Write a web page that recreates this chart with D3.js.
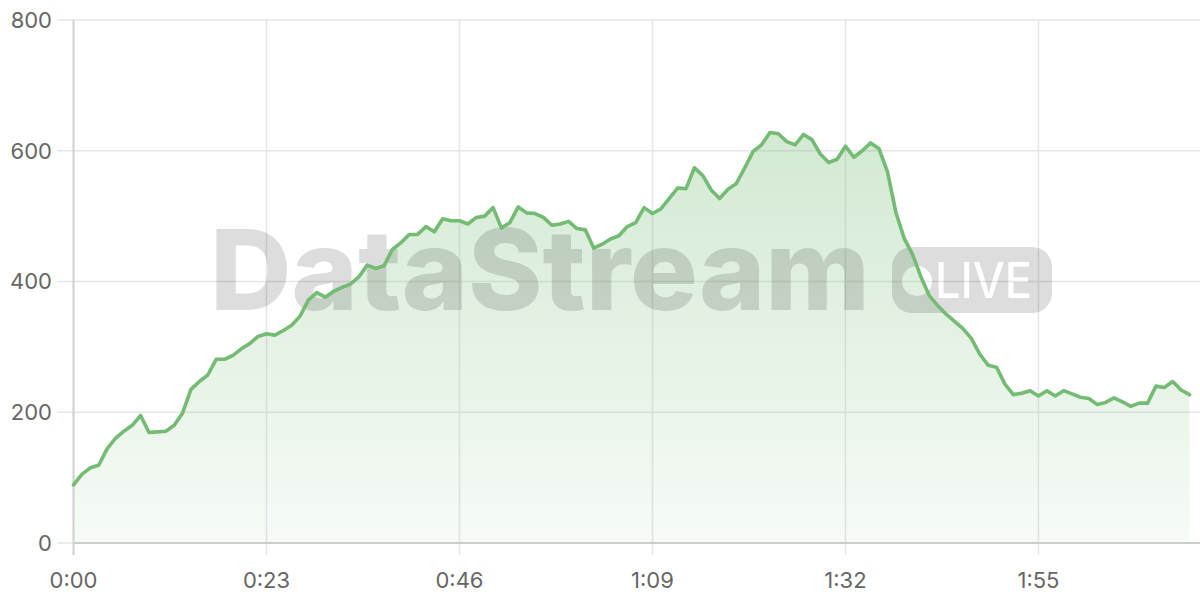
<!DOCTYPE html>
<html>
<head>
<meta charset="utf-8">
<script src="https://cdn.jsdelivr.net/npm/d3@7/dist/d3.min.js"></script>
<style>
  html, body { margin: 0; padding: 0; background: #fff; }
  svg { display: block; }
</style>
</head>
<body>
<svg id="chart" width="1200" height="600"></svg>
<script>
// ---- data (one sample per second) ----
const seconds = d3.range(0, 134);
const viewers = [
  89, 105, 115, 119, 144, 160, 171, 180, 195, 169,
  170, 171, 180, 199, 235, 247, 257, 281, 281, 287,
  297, 305, 316, 320, 318, 325, 333, 347, 372, 383,
  376, 385, 391, 396, 407, 425, 420, 424, 449, 459,
  472, 472, 484, 476, 496, 493, 493, 488, 498, 500,
  513, 482, 490, 514, 505, 504, 498, 486, 488, 492,
  481, 479, 451, 457, 465, 470, 484, 490, 513, 504,
  511, 527, 543, 542, 574, 562, 540, 527, 541, 550,
  574, 599, 609, 628, 626, 614, 609, 625, 617, 595,
  582, 587, 607, 590, 600, 612, 603, 568, 506, 466,
  441, 407, 378, 363, 350, 339, 328, 313, 289, 272,
  269, 243, 227, 229, 233, 225, 233, 225, 233, 228,
  223, 221, 212, 215, 222, 216, 209, 214, 214, 240,
  238, 247, 234, 227
];
const xTicks = [0, 23, 46, 69, 92, 115];
const yTicks = [0, 200, 400, 600, 800];
const watermarkText = "DataStream";
const badgeText = "LIVE";

(function () {
  // ---- layout ----
  const svg = d3.select("#chart");
  const pLeft = 73.5, pRight = 1200, pTop = 20, pBottom = 543;
  const x = d3.scaleLinear().domain([0, 134.25]).range([pLeft, pRight]);
  const y = d3.scaleLinear().domain([0, 800]).range([pBottom, pTop]);
  const data = seconds.map((s, i) => ({ s, v: viewers[i] }));
  const fmt = s => Math.floor(s / 60) + ":" + String(s % 60).padStart(2, "0");
  const green = "#74bb74";
  const font = "Inter, 'Noto Sans', sans-serif";

  const defs = svg.append("defs");
  const grad = defs.append("linearGradient")
    .attr("id", "areaGrad").attr("gradientUnits", "userSpaceOnUse")
    .attr("x1", 0).attr("x2", 0).attr("y1", y(630)).attr("y2", y(0));
  grad.append("stop").attr("offset", 0).attr("stop-color", green).attr("stop-opacity", 0.32);
  grad.append("stop").attr("offset", 1).attr("stop-color", green).attr("stop-opacity", 0.06);

  // ---- grid ----
  const grid = svg.append("g");
  grid.selectAll("line.h").data(yTicks.filter(t => t > 0)).join("line")
    .attr("x1", pLeft - 16).attr("x2", pRight)
    .attr("y1", d => y(d)).attr("y2", d => y(d))
    .attr("stroke", "#e6e6e6").attr("stroke-width", 1.5);
  grid.selectAll("line.v").data(xTicks.filter(t => t > 0)).join("line")
    .attr("x1", d => x(d)).attr("x2", d => x(d))
    .attr("y1", pTop).attr("y2", pBottom + 12)
    .attr("stroke", "#e6e6e6").attr("stroke-width", 1.5);

  // ---- area ----
  const area = d3.area().x(d => x(d.s)).y0(y(0)).y1(d => y(d.v));
  svg.append("path").datum(data).attr("d", area).attr("fill", "url(#areaGrad)");

  // ---- watermark ----
  const mask = defs.append("mask").attr("id", "badgeMask");
  mask.append("rect").attr("x", 0).attr("y", 0).attr("width", 1200).attr("height", 600).attr("fill", "#fff");
  mask.append("circle").attr("cx", 917).attr("cy", 281).attr("r", 15).attr("fill", "#000");
  mask.append("text").attr("x", 935).attr("y", 298)
    .attr("font-family", font).attr("font-size", 49).attr("font-weight", 500)
    .attr("textLength", 97).attr("lengthAdjust", "spacingAndGlyphs")
    .attr("fill", "#000").text(badgeText);

  const wm = svg.append("g").attr("fill", "#000").attr("fill-opacity", 0.135);
  wm.append("text").attr("x", 210).attr("y", 310)
    .attr("font-family", font).attr("font-size", 112).attr("font-weight", 800)
    .attr("textLength", 660).attr("lengthAdjust", "spacingAndGlyphs")
    .text(watermarkText);
  wm.append("rect").attr("x", 892).attr("y", 247).attr("width", 160).attr("height", 66)
    .attr("rx", 20).attr("mask", "url(#badgeMask)");

  // ---- axes ----
  svg.append("line").attr("x1", pLeft).attr("x2", pRight).attr("y1", pBottom).attr("y2", pBottom)
    .attr("stroke", "#cccccc").attr("stroke-width", 2);
  svg.append("line").attr("x1", pLeft - 16).attr("x2", pLeft).attr("y1", pBottom).attr("y2", pBottom)
    .attr("stroke", "#e6e6e6").attr("stroke-width", 1.5);
  svg.append("line").attr("x1", pLeft).attr("x2", pLeft).attr("y1", pTop).attr("y2", pBottom + 12)
    .attr("stroke", "#d0d0d0").attr("stroke-width", 2);

  svg.append("g").selectAll("text").data(yTicks).join("text")
    .attr("x", 52).attr("y", d => y(d)).attr("dy", "0.36em")
    .attr("text-anchor", "end").attr("font-family", font).attr("font-size", 22)
    .attr("fill", "#666").text(d => d);

  svg.append("g").selectAll("text").data(xTicks).join("text")
    .attr("x", d => x(d)).attr("y", 588)
    .attr("text-anchor", "middle").attr("font-family", font).attr("font-size", 22)
    .attr("fill", "#666").text(d => fmt(d));

  // ---- line ----
  const line = d3.line().x(d => x(d.s)).y(d => y(d.v));
  svg.append("path").datum(data).attr("d", line)
    .attr("fill", "none").attr("stroke", green).attr("stroke-width", 3.6)
    .attr("stroke-linejoin", "round").attr("stroke-linecap", "round");
})();
</script>
</body>
</html>
